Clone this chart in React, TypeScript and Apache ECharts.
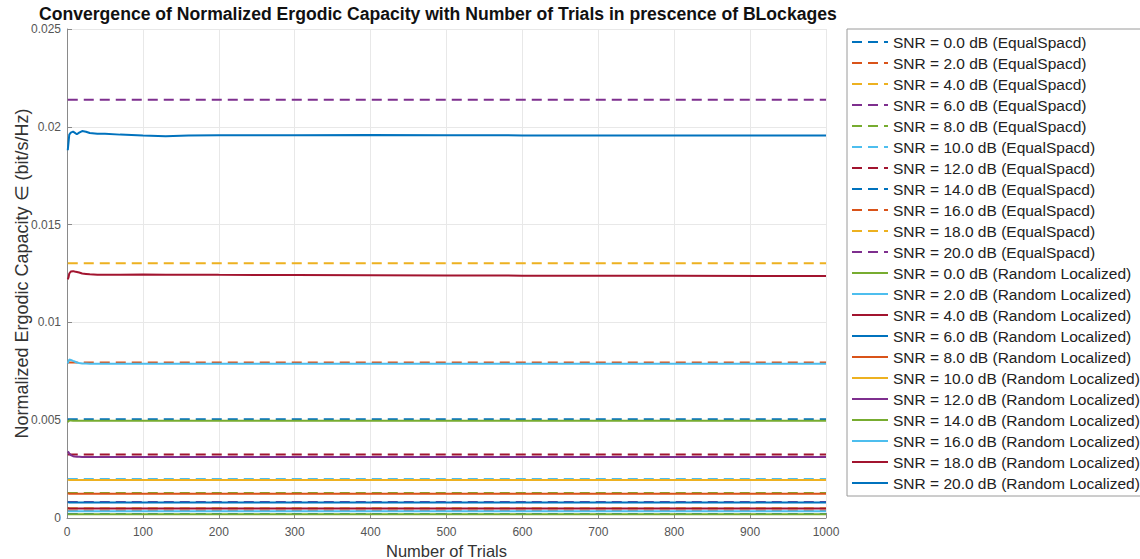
import React, { useEffect, useRef } from "react";
import * as echarts from "echarts";

const snrLevels = ["0.0", "2.0", "4.0", "6.0", "8.0", "10.0", "12.0", "14.0", "16.0", "18.0", "20.0"];

const matlabColors = ["#0072BD", "#D95319", "#EDB120", "#7E2F8E", "#77AC30", "#4DBEEE", "#A2142F"];

const xTicks = [0, 100, 200, 300, 400, 500, 600, 700, 800, 900, 1000];
const yTicks = [0, 0.005, 0.01, 0.015, 0.02, 0.025];

// Equal-spaced: constant capacity (dashed lines)
const equalSpacedTrials = [1, 1000];
const equalSpacedCapacity = [0.00021, 0.00037, 0.0005, 0.00082, 0.00128, 0.002, 0.00325, 0.00505, 0.00795, 0.01302, 0.02138];

// Random localized: running average vs trials
const trials = [1, 2, 3, 5, 8, 10, 13, 16, 20, 25, 30, 40, 50, 70, 100, 130, 160, 200, 300, 400, 500, 600, 800, 1000];

const rl0 = [0.00019, 0.00019, 0.00019, 0.00019, 0.00019, 0.00019, 0.00019, 0.00019, 0.00019, 0.00019, 0.00019, 0.00019, 0.00019, 0.00019, 0.00019, 0.00019, 0.00019, 0.00019, 0.00019, 0.00019, 0.00019, 0.00019, 0.00019, 0.00019];
const rl2 = [0.00035, 0.00035, 0.00035, 0.00035, 0.00035, 0.00035, 0.00035, 0.00035, 0.00035, 0.00035, 0.00035, 0.00035, 0.00035, 0.00035, 0.00035, 0.00035, 0.00035, 0.00035, 0.00035, 0.00035, 0.00035, 0.00035, 0.00035, 0.00035];
const rl4 = [0.0005, 0.0005, 0.00049, 0.00049, 0.00049, 0.00049, 0.00049, 0.00049, 0.00049, 0.00049, 0.00049, 0.00049, 0.00049, 0.00049, 0.00049, 0.00049, 0.00049, 0.00049, 0.00049, 0.00049, 0.00049, 0.00049, 0.00049, 0.00049];
const rl6 = [0.0008, 0.0008, 0.00079, 0.00079, 0.00079, 0.00079, 0.00079, 0.00079, 0.00079, 0.00079, 0.00079, 0.00079, 0.00079, 0.00079, 0.00079, 0.00079, 0.00079, 0.00079, 0.00079, 0.00079, 0.00079, 0.00079, 0.00079, 0.00079];
const rl8 = [0.00125, 0.00125, 0.00124, 0.00124, 0.00124, 0.00124, 0.00124, 0.00124, 0.00124, 0.00124, 0.00124, 0.00124, 0.00124, 0.00124, 0.00124, 0.00124, 0.00124, 0.00124, 0.00124, 0.00124, 0.00124, 0.00124, 0.00124, 0.00124];
const rl10 = [0.00196, 0.00195, 0.00194, 0.00194, 0.00194, 0.00194, 0.00194, 0.00194, 0.00194, 0.00194, 0.00194, 0.00194, 0.00194, 0.00194, 0.00194, 0.00194, 0.00194, 0.00194, 0.00194, 0.00194, 0.00194, 0.00194, 0.00194, 0.00194];
const rl12 = [0.0034, 0.00336, 0.0033, 0.00322, 0.00316, 0.00314, 0.00313, 0.00313, 0.00312, 0.00312, 0.00312, 0.00312, 0.00312, 0.00312, 0.00312, 0.00312, 0.00312, 0.00312, 0.00312, 0.00312, 0.00312, 0.00312, 0.00312, 0.00312];
const rl14 = [0.0049, 0.00495, 0.00498, 0.00498, 0.00497, 0.00497, 0.00497, 0.00497, 0.00497, 0.00497, 0.00497, 0.00497, 0.00497, 0.00497, 0.00497, 0.00497, 0.00497, 0.00497, 0.00497, 0.00497, 0.00497, 0.00497, 0.00497, 0.00497];
const rl16 = [0.0079, 0.00802, 0.0081, 0.00808, 0.00803, 0.008, 0.00795, 0.00792, 0.0079, 0.0079, 0.00789, 0.00789, 0.00789, 0.00788, 0.00788, 0.00788, 0.00788, 0.00788, 0.00788, 0.00788, 0.00788, 0.00788, 0.00788, 0.00788];
const rl18 = [0.0122, 0.0123, 0.0125, 0.0126, 0.01262, 0.0126, 0.01258, 0.01255, 0.0125, 0.01248, 0.01246, 0.01244, 0.01244, 0.01244, 0.01245, 0.01244, 0.01244, 0.01243, 0.01242, 0.01241, 0.0124, 0.01239, 0.01238, 0.01237];
const rl20 = [0.0188, 0.0192, 0.0196, 0.0197, 0.01975, 0.0197, 0.01962, 0.0197, 0.01978, 0.01975, 0.01968, 0.01965, 0.01965, 0.0196, 0.01955, 0.01952, 0.01955, 0.01957, 0.01957, 0.01958, 0.01957, 0.01956, 0.01955, 0.01955];

const randomLocalized = [rl0, rl2, rl4, rl6, rl8, rl10, rl12, rl14, rl16, rl18, rl20];

export default function App() {
  const ref = useRef<HTMLDivElement>(null);

  useEffect(() => {
    if (!ref.current) return;
    const chart = echarts.init(ref.current, null, { renderer: "svg" });
    const font = "Liberation Sans, Arial, Helvetica, sans-serif";

    const series: any[] = [];
    snrLevels.forEach((snr, i) => {
      const v = equalSpacedCapacity[i];
      series.push({
        name: `SNR = ${snr} dB (EqualSpacd)`,
        type: "line",
        symbol: "none",
        data: equalSpacedTrials.map((t) => [t, v]),
        lineStyle: { width: 2, type: [10, 6], color: matlabColors[i % 7] },
        itemStyle: { color: matlabColors[i % 7] },
      });
    });
    snrLevels.forEach((snr, i) => {
      const vals = randomLocalized[i];
      const c = matlabColors[(i + 11) % 7];
      series.push({
        name: `SNR = ${snr} dB (Random Localized)`,
        type: "line",
        symbol: "none",
        data: trials.map((t, k) => [t, vals[k]]),
        lineStyle: { width: 2, type: "solid", color: c },
        itemStyle: { color: c },
      });
    });

    chart.setOption({
      animation: false,
      backgroundColor: "#ffffff",
      textStyle: { fontFamily: font },
      title: {
        text: "Convergence of Normalized Ergodic Capacity with Number of Trials in prescence of BLockages",
        left: 39,
        top: 5,
        padding: 0,
        textStyle: { fontFamily: font, fontSize: 17.6, fontWeight: "bold", color: "#111" },
      },
      legend: {
        orient: "vertical",
        left: 847,
        top: 29,
        padding: [5, 4, 5, 4],
        itemGap: 5,
        itemWidth: 36,
        itemHeight: 12,
        borderColor: "#9a9a9a",
        borderWidth: 1,
        backgroundColor: "#fff",
        itemStyle: { opacity: 0, borderWidth: 0 },
        textStyle: { fontFamily: font, fontSize: 15.5, color: "#222", lineHeight: 15 },
        data: series.map((s) => s.name),
      },
      grid: { left: 67, right: 314, top: 29, bottom: 41, containLabel: false, outerBoundsMode: "none" },
      xAxis: {
        type: "value",
        min: 0,
        max: 1000,
        interval: 100,
        name: "Number of Trials",
        nameLocation: "middle",
        nameGap: 20,
        nameTextStyle: { fontFamily: font, fontSize: 16.5, color: "#333" },
        axisLine: { show: true, lineStyle: { color: "#8a8a8a", width: 1 } },
        axisTick: { show: true, inside: true, length: 5, lineStyle: { color: "#8a8a8a" } },
        axisLabel: { fontFamily: font, fontSize: 12, color: "#555", margin: 8, formatter: (v: number) => String(v) },
        splitLine: { show: true, lineStyle: { color: "#e8e8e8", width: 1 } },
      },
      yAxis: {
        type: "value",
        min: 0,
        max: 0.025,
        interval: 0.005,
        name: "Normalized Ergodic Capacity \u2208 (bit/s/Hz)",
        nameLocation: "middle",
        nameGap: 36,
        nameMoveOverlap: false,
        nameTextStyle: { fontFamily: font, fontSize: 18, color: "#333" },
        axisLine: { show: true, lineStyle: { color: "#8a8a8a", width: 1 } },
        axisTick: { show: true, inside: true, length: 5, lineStyle: { color: "#8a8a8a" } },
        axisLabel: {
          fontFamily: font,
          fontSize: 12,
          color: "#555",
          margin: 6,
          formatter: (v: number) => (yTicks.indexOf(v) >= 0 ? String(Number(v.toFixed(3))) : String(v)),
        },
        splitLine: { show: true, lineStyle: { color: "#e8e8e8", width: 1 } },
      },
      series,
    });

    return () => chart.dispose();
  }, []);

  return (
    <div
      ref={ref}
      style={{ position: "fixed", left: 0, top: 0, width: 1140, height: 559 }}
    />
  );
}
